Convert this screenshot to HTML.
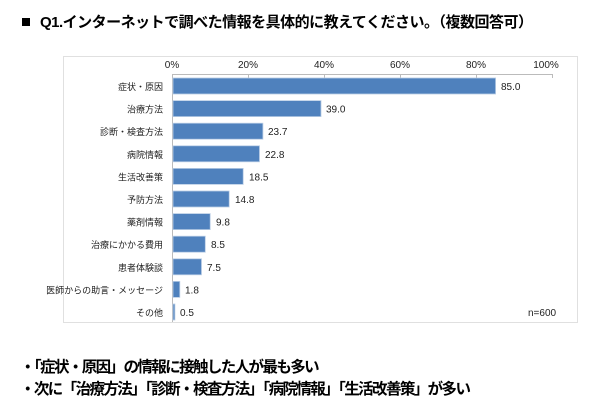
<!DOCTYPE html>
<html><head><meta charset="utf-8"><style>
body{margin:0;width:600px;height:408px;background:#fff;font-family:"Liberation Sans","Noto Sans CJK JP",sans-serif;position:relative;overflow:hidden}
.t{position:absolute;white-space:nowrap}
</style></head><body>
<div style="position:absolute;left:22px;top:18px;width:8px;height:8px;background:#000"></div>
<div class="t" style="left:40px;top:11px;font-size:15px;font-weight:bold;color:#000;letter-spacing:-0.5px">Q1.インターネットで調べた情報を具体的に教えてください。（複数回答可）</div>
<svg width="600" height="408" style="position:absolute;left:0;top:0" font-family="Liberation Sans, Noto Sans CJK JP, sans-serif">
<rect x="63.5" y="56.5" width="514" height="266" fill="#fff" stroke="#e0e0e0"/>
<line x1="172.5" y1="74.5" x2="552.5" y2="74.5" stroke="#bbb"/>
<g stroke="#bbb">
<line x1="172.5" y1="74" x2="172.5" y2="78"/><line x1="248.5" y1="74" x2="248.5" y2="78"/><line x1="324.5" y1="74" x2="324.5" y2="78"/><line x1="400.5" y1="74" x2="400.5" y2="78"/><line x1="476.5" y1="74" x2="476.5" y2="78"/><line x1="552.5" y1="74" x2="552.5" y2="78"/>
</g>
<line x1="172.5" y1="74" x2="172.5" y2="322" stroke="#bbb"/>
<g font-size="10" fill="#222" text-anchor="middle">
<text x="172" y="68">0%</text><text x="248" y="68">20%</text><text x="324" y="68">40%</text><text x="400" y="68">60%</text><text x="476" y="68">80%</text><text x="546" y="68">100%</text>
</g>
<g fill="#4f81bd" stroke="#b9cde5" stroke-width="0.8">
<rect x="173" y="78" width="322.6" height="16"/>
<rect x="173" y="100.6" width="148" height="16"/>
<rect x="173" y="123.2" width="89.9" height="16"/>
<rect x="173" y="145.8" width="86.5" height="16"/>
<rect x="173" y="168.4" width="70.2" height="16"/>
<rect x="173" y="191" width="56.2" height="16"/>
<rect x="173" y="213.6" width="37.2" height="16"/>
<rect x="173" y="236.2" width="32.3" height="16"/>
<rect x="173" y="258.8" width="28.5" height="16"/>
<rect x="173" y="281.4" width="6.8" height="16"/>
<rect x="173" y="304" width="1.9" height="16"/>
</g>
<g font-size="9" fill="#222" text-anchor="end">
<text x="163" y="90">症状・原因</text><text x="163" y="112.6">治療方法</text><text x="163" y="135.2">診断・検査方法</text><text x="163" y="157.8">病院情報</text><text x="163" y="180.4">生活改善策</text><text x="163" y="203">予防方法</text><text x="163" y="225.6">薬剤情報</text><text x="163" y="248.2">治療にかかる費用</text><text x="163" y="270.8">患者体験談</text><text x="163" y="293.4">医師からの助言・メッセージ</text><text x="163" y="316">その他</text>
</g>
<g font-size="10" fill="#222">
<text x="501" y="90">85.0</text><text x="326" y="112.6">39.0</text><text x="268" y="135.2">23.7</text><text x="265" y="157.8">22.8</text><text x="249" y="180.4">18.5</text><text x="235" y="203">14.8</text><text x="216" y="225.6">9.8</text><text x="211" y="248.2">8.5</text><text x="207" y="270.8">7.5</text><text x="185" y="293.4">1.8</text><text x="180" y="316">0.5</text>
<text x="528" y="316">n=600</text>
</g>
</svg>
<div class="t" style="left:20px;top:355px;font-size:15.5px;font-weight:bold;letter-spacing:-1.6px">・「症状・原因」の情報に接触した人が最も多い</div>
<div class="t" style="left:20px;top:377px;font-size:15.5px;font-weight:bold;letter-spacing:-1.6px">・次に「治療方法」「診断・検査方法」「病院情報」「生活改善策」が多い</div>
</body></html>
